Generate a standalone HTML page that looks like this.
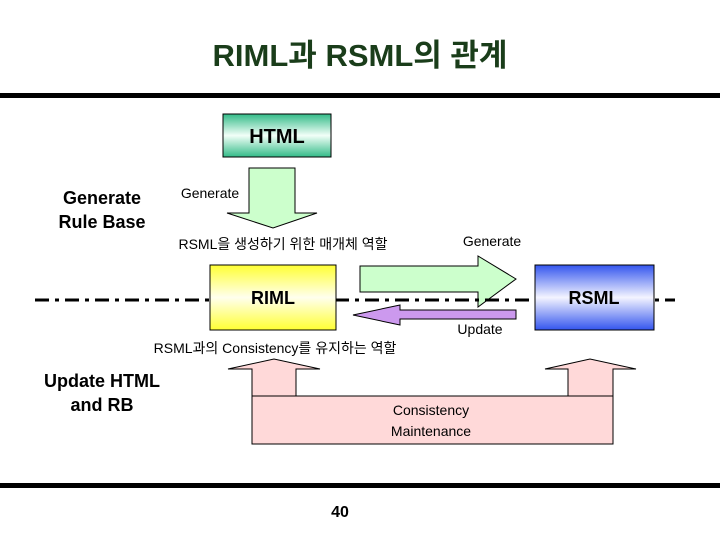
<!DOCTYPE html>
<html><head><meta charset="utf-8"><style>
body{margin:0;background:#fff}
svg{display:block}
text{font-family:"Liberation Sans","Noto Sans CJK KR",sans-serif}
</style></head><body>
<svg width="720" height="540" viewBox="0 0 720 540" xmlns="http://www.w3.org/2000/svg">
<defs>
<linearGradient id="g" x1="0" y1="0" x2="0" y2="1"><stop offset="0" stop-color="#33bb88"/><stop offset="0.5" stop-color="#f2fff8"/><stop offset="1" stop-color="#33bb88"/></linearGradient>
<linearGradient id="y" x1="0" y1="0" x2="0" y2="1"><stop offset="0" stop-color="#ffff33"/><stop offset="0.5" stop-color="#ffffee"/><stop offset="1" stop-color="#ffff33"/></linearGradient>
<linearGradient id="b" x1="0" y1="0" x2="0" y2="1"><stop offset="0" stop-color="#3355ee"/><stop offset="0.5" stop-color="#f4f4ff"/><stop offset="1" stop-color="#3355ee"/></linearGradient>
</defs>
<text x="360" y="66" text-anchor="middle" font-size="31" font-weight="bold" fill="#1a3d1a">RIML과 RSML의 관계</text>
<rect x="0" y="93" width="720" height="5" fill="#000"/>
<rect x="223" y="114" width="108" height="43" fill="url(#g)" stroke="#000"/>
<text x="277" y="143" text-anchor="middle" font-size="20" font-weight="bold">HTML</text>
<polygon points="249,168 295,168 295,213 317,213 273,228 227,213 249,213" fill="#ccffcc" stroke="#000"/>
<text x="210" y="198" text-anchor="middle" font-size="14">Generate</text>
<text x="102" y="204" text-anchor="middle" font-size="18" font-weight="bold">Generate</text>
<text x="102" y="228" text-anchor="middle" font-size="18" font-weight="bold">Rule Base</text>
<text x="283" y="249" text-anchor="middle" font-size="14">RSML을 생성하기 위한 매개체 역할</text>
<text x="492" y="246" text-anchor="middle" font-size="14">Generate</text>
<polygon points="360,266 478,266 478,256 516,279 478,307 478,292 360,292" fill="#ccffcc" stroke="#000"/>
<polygon points="516,310 400,310 400,305 353,315 400,325 400,319 516,319" fill="#cc99ee" stroke="#000"/>
<line x1="35" y1="300" x2="675" y2="300" stroke="#000" stroke-width="3" stroke-dasharray="14,6,4,6"/>
<rect x="210" y="265" width="126" height="65" fill="url(#y)" stroke="#000"/>
<text x="273" y="304" text-anchor="middle" font-size="18" font-weight="bold">RIML</text>
<rect x="535" y="265" width="119" height="65" fill="url(#b)" stroke="#000"/>
<text x="594" y="304" text-anchor="middle" font-size="18" font-weight="bold">RSML</text>
<text x="480" y="334" text-anchor="middle" font-size="14">Update</text>
<text x="275" y="353" text-anchor="middle" font-size="14">RSML과의 Consistency를 유지하는 역할</text>
<polygon points="252,397 252,369 228,369 274,359 320,369 296,369 296,397" fill="#ffd9d9" stroke="#000"/>
<polygon points="568,397 568,369 545,369 590,359 636,369 613,369 613,397" fill="#ffd9d9" stroke="#000"/>
<rect x="252" y="396" width="361" height="48" fill="#ffd9d9" stroke="#000"/>
<text x="431" y="415" text-anchor="middle" font-size="14">Consistency</text>
<text x="431" y="436" text-anchor="middle" font-size="14">Maintenance</text>
<text x="102" y="387" text-anchor="middle" font-size="18" font-weight="bold">Update HTML</text>
<text x="102" y="411" text-anchor="middle" font-size="18" font-weight="bold">and RB</text>
<rect x="0" y="483" width="720" height="5" fill="#000"/>
<text x="340" y="517" text-anchor="middle" font-size="16" font-weight="bold">40</text>
</svg>
</body></html>
